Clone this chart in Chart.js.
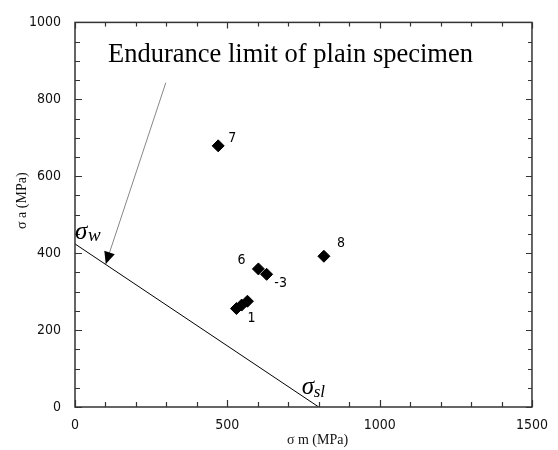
<!DOCTYPE html>
<html>
<head>
<meta charset="utf-8">
<script src="https://cdn.jsdelivr.net/npm/chart.js@4.4.0/dist/chart.umd.min.js"></script>
<style>
  body { margin: 0; background: #fff; }
  #wrap { width: 558px; height: 450px; }
</style>
</head>
<body>
<div id="wrap"><canvas id="fatigueChart" width="558" height="450"></canvas></div>
<script>
// DATA
const specimenIds = ['7', '6', '-3', '', '', '1', '8'];
const meanStress = [470, 602, 629, 530, 547, 566, 817];      // sigma m (MPa)
const ampStress = [679, 359, 345, 256, 265, 275, 392];       // sigma a (MPa)
const limitLineM = [0, 800];                                 // sigma w -> sigma sl
const limitLineA = [424, 0];
const arrowM = [298, 101];
const arrowA = [843, 372];
const xTickLabels = [0, 500, 1000, 1500];
const yTickLabels = [0, 200, 400, 600, 800, 1000];
const xTitle = 'σ m (MPa)';
const yTitle = 'σ a (MPa)';

const tickFont = { family: 'DejaVu Sans Condensed', size: 14 };
const labelOffsets = { '7': [14, -7], '6': [-17, -9], '-3': [14, 9], '1': [4, 17], '8': [17, -13] };

// PLUGINS
const whiteBg = {
    id: 'whiteBg',
    beforeDraw(chart) {
        const ctx = chart.ctx;
        ctx.save();
        ctx.fillStyle = '#fff';
        ctx.fillRect(0, 0, chart.width, chart.height);
        ctx.restore();
    }
};

const frameAndTicks = {
    id: 'frameAndTicks',
    afterDraw(chart) {
        const ctx = chart.ctx;
        const a = chart.chartArea;
        const xs = chart.scales.x, ys = chart.scales.y;
        ctx.save();
        ctx.strokeStyle = '#333';
        ctx.lineWidth = 1.5;
        ctx.strokeRect(a.left, a.top, a.right - a.left, a.bottom - a.top);
        ctx.lineWidth = 1.2;
        ctx.beginPath();
        xs.ticks.forEach(t => {
            const px = Math.round(xs.getPixelForValue(t.value)) + 0.5;
            const len = xTickLabels.includes(t.value) ? 7 : 5;
            ctx.moveTo(px, a.bottom); ctx.lineTo(px, a.bottom - len);
            ctx.moveTo(px, a.top); ctx.lineTo(px, a.top + len - 1);
        });
        ys.ticks.forEach(t => {
            const py = Math.round(ys.getPixelForValue(t.value)) + 0.5;
            const len = yTickLabels.includes(t.value) ? 7 : 5;
            ctx.moveTo(a.left, py); ctx.lineTo(a.left + len, py);
            ctx.moveTo(a.right, py); ctx.lineTo(a.right - len + 1, py);
        });
        ctx.stroke();

        // arrow head at end of the pointer line
        const arrowMeta = chart.getDatasetMeta(1).data;
        const p0 = arrowMeta[0], p1 = arrowMeta[1];
        const dx = p1.x - p0.x, dy = p1.y - p0.y;
        const d = Math.hypot(dx, dy);
        const ux = dx / d, uy = dy / d;
        const bx = p1.x - ux * 12, by = p1.y - uy * 12;
        ctx.fillStyle = '#000';
        ctx.beginPath();
        ctx.moveTo(p1.x, p1.y);
        ctx.lineTo(bx - uy * 5.5, by + ux * 5.5);
        ctx.lineTo(bx + uy * 5.5, by - ux * 5.5);
        ctx.closePath();
        ctx.fill();

        // specimen numbers
        ctx.font = '14px "DejaVu Sans Condensed"';
        ctx.textAlign = 'center';
        ctx.textBaseline = 'middle';
        chart.getDatasetMeta(2).data.forEach((pt, i) => {
            const id = specimenIds[i];
            if (!id) return;
            const off = labelOffsets[id];
            ctx.fillText(id, pt.x + off[0], pt.y + off[1]);
        });

        // axis titles
        ctx.font = '14px "Liberation Serif"';
        ctx.fillStyle = '#111';
        ctx.fillText(xTitle, (a.left + a.right) / 2 + 14, 440);
        ctx.save();
        ctx.translate(22, (a.top + a.bottom) / 2 - 14);
        ctx.rotate(-Math.PI / 2);
        ctx.fillText(yTitle, 0, 0);
        ctx.restore();

        // annotation text
        ctx.fillStyle = '#000';
        ctx.textAlign = 'left';
        ctx.textBaseline = 'alphabetic';
        ctx.font = '26.5px "Liberation Serif"';
        ctx.fillText('Endurance limit of plain specimen', a.left + 33, a.top + 40);

        const w = chart.getDatasetMeta(0).data[0];
        ctx.font = 'italic 25px "Liberation Serif"';
        ctx.fillText('σ', w.x + 0, w.y - 5);
        ctx.font = 'italic 19px "Liberation Serif"';
        ctx.fillText('w', w.x + 13, w.y - 3);

        const s = chart.getDatasetMeta(0).data[1];
        ctx.font = 'italic 25px "Liberation Serif"';
        ctx.fillText('σ', s.x - 17, s.y - 13);
        ctx.font = 'italic 17px "Liberation Serif"';
        ctx.fillText('sl', s.x - 5, s.y - 10);
        ctx.restore();
    }
};

// CHART
const ctx = document.getElementById('fatigueChart').getContext('2d');
new Chart(ctx, {
    type: 'scatter',
    data: {
        datasets: [
            {
                type: 'line',
                data: limitLineM.map((m, i) => ({ x: m, y: limitLineA[i] })),
                borderColor: '#000',
                borderWidth: 1,
                pointRadius: 0,
                fill: false
            },
            {
                type: 'line',
                data: arrowM.map((m, i) => ({ x: m, y: arrowA[i] })),
                borderColor: '#888',
                borderWidth: 1,
                pointRadius: 0,
                fill: false
            },
            {
                data: meanStress.map((m, i) => ({ x: m, y: ampStress[i] })),
                pointStyle: 'rectRot',
                pointRadius: 6,
                backgroundColor: '#000',
                borderColor: '#000',
                borderWidth: 1
            }
        ]
    },
    options: {
        responsive: false,
        animation: false,
        layout: { padding: { left: 0, right: 22, top: 21, bottom: 0 } },
        plugins: { legend: { display: false }, tooltip: { enabled: false } },
        scales: {
            x: {
                type: 'linear',
                min: 0, max: 1500,
                grid: { display: false, drawTicks: false },
                border: { display: false },
                ticks: {
                    stepSize: 100,
                    autoSkip: false,
                    maxRotation: 0,
                    padding: 10,
                    color: '#111',
                    font: tickFont,
                    callback: v => xTickLabels.includes(v) ? String(v) : ''
                },
                afterFit: s => { s.height = 43; }
            },
            y: {
                type: 'linear',
                min: 0, max: 1000,
                grid: { display: false, drawTicks: false },
                border: { display: false },
                ticks: {
                    stepSize: 50,
                    autoSkip: false,
                    padding: 14,
                    color: '#111',
                    font: tickFont,
                    callback: v => yTickLabels.includes(v) ? String(v) : ''
                },
                afterFit: s => { s.width = 75; }
            }
        }
    },
    plugins: [whiteBg, frameAndTicks]
});
</script>
</body>
</html>
